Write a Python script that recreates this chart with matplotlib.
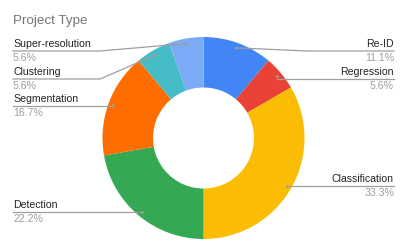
import matplotlib.pyplot as plt
import numpy as np

# data
labels = ["Re-ID", "Regression", "Classification", "Detection",
          "Segmentation", "Clustering", "Super-resolution"]
values = [2, 1, 6, 4, 3, 1, 1]
colors = ["#4285F4", "#EA4335", "#FBBC04", "#34A853",
          "#FF6D01", "#46BDC6", "#7BAAF7"]

# layout in pixel units (y measured from top of image)
W, H = 407, 252
cx, cy_top, R = 203.5, 138, 101
cy = H - cy_top

# label placement: (side, line y from top)
label_pos = {
    "Re-ID": ("right", 51),
    "Regression": ("right", 79),
    "Classification": ("right", 186),
    "Detection": ("left", 212),
    "Segmentation": ("left", 106),
    "Clustering": ("left", 79),
    "Super-resolution": ("left", 51),
}

plt.rcParams["font.family"] = ["Liberation Sans", "DejaVu Sans"]
fig = plt.figure(figsize=(W / 100, H / 100), dpi=100)
ax = fig.add_axes([0, 0, 1, 1])
ax.set_xlim(0, W)
ax.set_ylim(0, H)
ax.axis("off")

ax.pie(values, colors=colors, startangle=90, counterclock=False,
       center=(cx, cy), radius=R,
       wedgeprops=dict(width=R * 0.5, linewidth=0))
ax.set_xlim(0, W)
ax.set_ylim(0, H)
ax.set_aspect("equal")

ax.text(13, H - 21, "Project Type", fontsize=9.6, color="#757575",
        va="center", ha="left")

total = sum(values)
cum = np.cumsum([0] + values[:-1])
line_col = "#9e9e9e"
for lab, v, c0 in zip(labels, values, cum):
    mid = np.deg2rad(90 - (c0 + v / 2) / total * 360)
    px = cx + 0.95 * R * np.cos(mid)
    py = cy + 0.95 * R * np.sin(mid)
    side, ly = label_pos[lab]
    ly = H - ly
    if side == "left":
        x_text, x_elbow, ha = 13, 100, "left"
    else:
        x_text, x_elbow, ha = 394, 307, "right"
    if abs(py - ly) < 3:
        ax.plot([x_text, px], [ly, ly], color=line_col, lw=0.9)
    else:
        ax.plot([x_text, x_elbow, px], [ly, ly, py], color=line_col, lw=0.9)
    ax.plot(px, py, "o", ms=2, color=line_col, mec="none")
    ax.text(x_text, ly + 2, lab, fontsize=7.6, color="#222222",
            ha=ha, va="bottom")
    ax.text(x_text, ly - 2, f"{v / total * 100:.1f}%", fontsize=7.6,
            color="#9e9e9e", ha=ha, va="top")

fig.savefig("out.png", dpi=100)
